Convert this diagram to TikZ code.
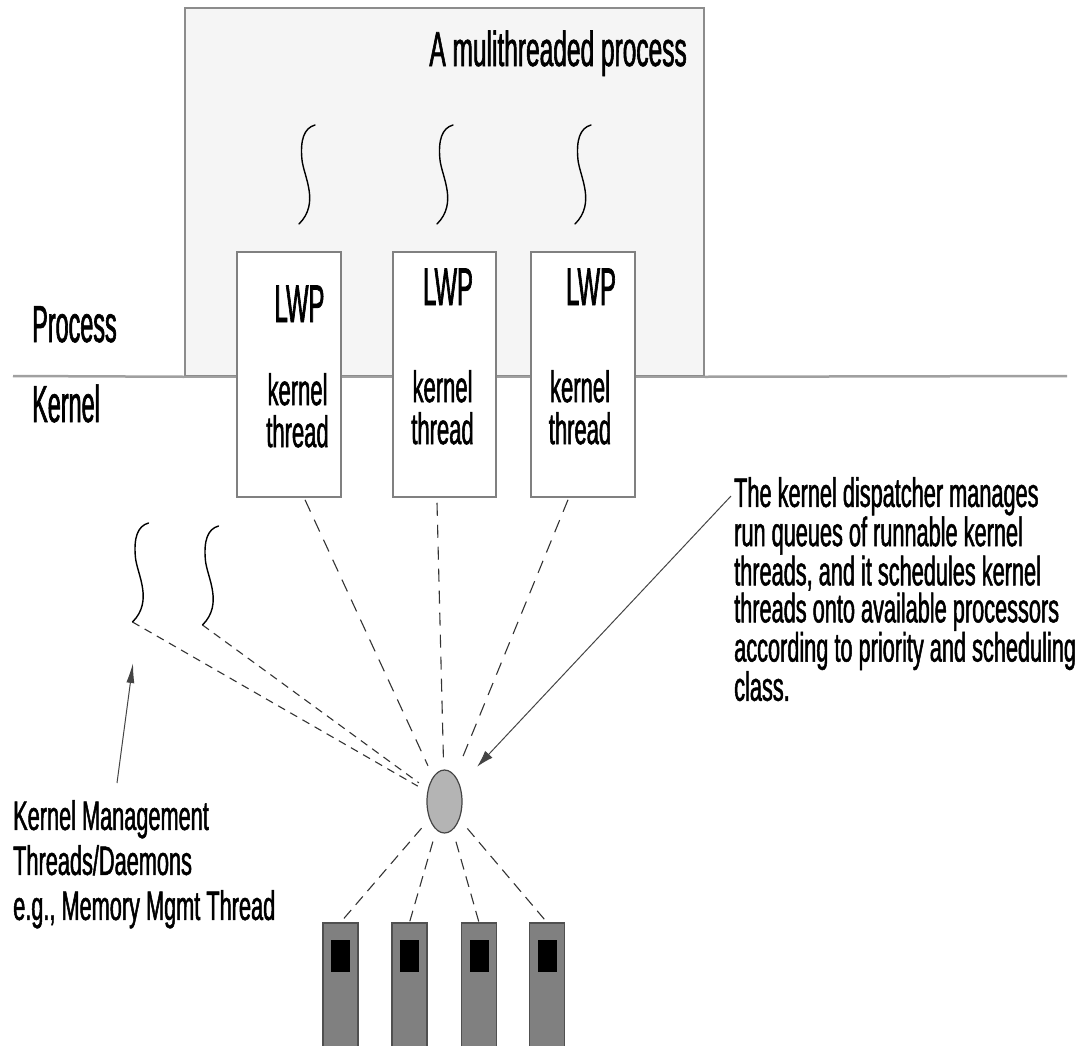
\documentclass[tikz,border=0pt]{standalone}
\usepackage{fontspec}
\setmainfont{Liberation Sans}
\newfontfamily\narrowtext{Liberation Sans}[FakeStretch=0.53,FakeBold=1.2]
\newfontfamily\midtext{Liberation Sans}[FakeStretch=0.50,FakeBold=1.2]
\newfontfamily\tighttext{Liberation Sans}[FakeStretch=0.45,FakeBold=1.2]
\usetikzlibrary{arrows.meta,shapes.geometric,calc}

\definecolor{procfill}{HTML}{F5F5F5}
\definecolor{procedge}{HTML}{8C8C8C}
\definecolor{sepline}{HTML}{A0A0A0}
\definecolor{lwpedge}{HTML}{808080}
\definecolor{linkcol}{HTML}{333333}
\definecolor{dispfill}{HTML}{B4B4B4}
\definecolor{dispedge}{HTML}{444444}
\definecolor{cpufill}{HTML}{808080}
\definecolor{cpuedge}{HTML}{505050}

\tikzset{
  procbox/.style={rectangle, draw=procedge, fill=procfill, line width=1.5pt,
    inner sep=0pt, minimum width=519pt, minimum height=368pt},
  lwpbox/.style={rectangle, draw=lwpedge, fill=white, line width=1.5pt,
    inner sep=0pt, minimum width=104pt, minimum height=245pt},
  lwplabel/.style={anchor=base, inner sep=0pt, font=\tighttext\fontsize{53}{53}\selectfont},
  ktlabel/.style={anchor=north, inner sep=0pt, align=center,
    font=\midtext\fontsize{44}{42}\selectfont},
  sidelabel/.style={anchor=base west, inner sep=0pt, font=\tighttext\fontsize{52}{52}\selectfont},
  note/.style={anchor=north west, inner sep=0pt, align=left},
  dispatch/.style={ellipse, draw=dispedge, fill=dispfill, line width=1.2pt,
    inner sep=0pt, minimum width=35pt, minimum height=63pt},
  cpu/.style={rectangle, draw=cpuedge, fill=cpufill, line width=1.2pt,
    inner sep=0pt, minimum width=35pt, minimum height=126pt},
  thread/.style={draw=black, line width=1.4pt, line cap=round},
  linkA/.style={draw=linkcol, line width=1.1pt, dash pattern=on 13pt off 9pt, shorten >=12pt},
  linkB/.style={draw=linkcol, line width=1.1pt, dash pattern=on 11pt off 7pt, shorten <=12pt},
  linkC/.style={draw=linkcol, line width=1.1pt, dash pattern=on 8pt off 6pt, shorten >=11pt},
  pointer/.style={draw=dispedge, line width=1pt},
}

% an S-shaped thread glyph: centre x, top y, name of its lower end
\newcommand\threadcurve[3]{%
  \draw[thread] (#1+8,#2) .. controls (#1-3,#2+3) and (#1-7,#2+15) .. (#1-5,#2+35)
    .. controls (#1-3,#2+52) and (#1+13,#2+78) .. (#1-8,#2+99) coordinate (#3);
}

\begin{document}
\begin{tikzpicture}[x=1pt,y=-1pt]
\useasboundingbox (0,0) rectangle (1085,1045);

% user space: the process
\node[procbox] (proc) at (444.5,192) {};
\draw[sepline, line width=2.5pt] (13,376) -- (proc.south west) (proc.south east) -- (1067,376);
\draw[sepline, line width=2.5pt] (proc.south west) -- (proc.south east);
\node[anchor=base east, inner sep=0pt, font=\midtext\fontsize{49}{50}\selectfont]
  (title) at (687,66) {A mulithreaded process};

\node[sidelabel] (plabel) at (32,342) {Process};
\node[sidelabel] (klabel) at (32,422) {Kernel};

% user threads
\threadcurve{307}{125}{ut1}
\threadcurve{445}{125}{ut2}
\threadcurve{583}{125}{ut3}

% light-weight processes and their kernel threads
\node[lwpbox] (lwp1) at (289,374.5) {};
\node[lwpbox, minimum width=103pt] (lwp2) at (444.5,374.5) {};
\node[lwpbox] (lwp3) at (583,374.5) {};

\node[lwplabel] (lwpt1) at (299.5,322) {LWP};
\node[lwplabel] (lwpt2) at (448,305) {LWP};
\node[lwplabel] (lwpt3) at (591,305) {LWP};

\node[ktlabel] (kt1) at (297.5,373) {kernel\\thread};
\node[ktlabel] (kt2) at (442.5,370) {kernel\\thread};
\node[ktlabel] (kt3) at (580,370) {kernel\\thread};

% kernel management threads
\threadcurve{140.5}{523}{km1}
\threadcurve{210.5}{526}{km2}

% dispatcher
\node[dispatch] (disp) at (444.5,801.5) {};

% processors
\node[cpu] (cpu1) at (340.5,986) {};
\node[cpu] (cpu2) at (409.5,986) {};
\node[cpu] (cpu3) at (479,986) {};
\node[cpu] (cpu4) at (547,986) {};
\foreach \i in {1,...,4}
  \fill[black] ([shift={(9,18)}]cpu\i.north west) rectangle ([shift={(28,50)}]cpu\i.north west);

% dispatch links
\draw[linkA] ([shift={(16,2)}]lwp1.south) -- (disp);
\draw[linkA] ([shift={(-7.5,5)}]lwp2.south) -- (disp);
\draw[linkA] ([shift={(-15,2)}]lwp3.south) -- (disp);
\draw[linkC] (km1) -- (disp);
\draw[linkC] (km2) -- (disp);
\foreach \i in {1,...,4}
  \draw[linkB] (disp) -- (cpu\i.north);

% annotations
\node[note, font=\narrowtext\fontsize{41}{37}\selectfont] (note) at (734,477)
  {The kernel dispatcher manages\\run queues of runnable kernel\\threads, and it schedules kernel\\threads onto available processors\\according to priority and scheduling\\class.};
\draw[pointer, -{Latex[length=17pt,width=10pt]}, shorten >=25pt]
  ([shift={(-3,19)}]note.north west) -- (disp);

\node[note, font=\narrowtext\fontsize{41}{45}\selectfont] (mgmt) at (13,800)
  {Kernel Management\\Threads/Daemons\\e.g., Memory Mgmt Thread};
\coordinate (mgmttip) at (133,663);
\draw[pointer, -{Latex[length=20pt,width=8pt]}]
  ([shift={(104,-17)}]mgmt.north west) -- (mgmttip);
\end{tikzpicture}
\end{document}
